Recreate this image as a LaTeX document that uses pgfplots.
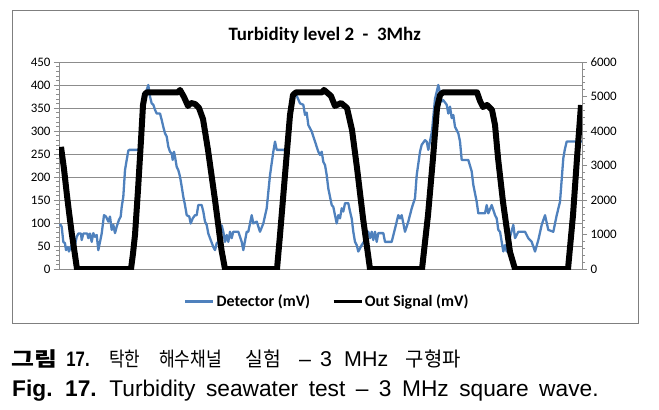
\documentclass[border=0pt]{standalone}
\usepackage{graphicx}
\usepackage{pgfplots}
\usepackage{pgfplotstable}
\pgfplotsset{compat=1.18}
\usepackage{fontspec}
\setmainfont{Carlito}
\newfontfamily\arial{Liberation Sans}
\newfontfamily\kr{Noto Sans CJK KR}
\definecolor{detblue}{HTML}{4F81BD}
\definecolor{gridgray}{HTML}{8C8C8C}
\definecolor{framegray}{HTML}{7F7F7F}

\pgfplotstableread{
x y
60 98
61.7 92
63.3 59
65 56
66 41
67.7 48
69 38
70.7 48
72.7 56
74 41
76.7 70
78.3 77
81 77
81.7 63
83.3 77
87.3 77
88.3 67
90 77
91.7 59
93.3 78
95 70
96.7 74
98.3 41
100 59
101.7 77
104 117
106 114
108.3 103
110 114
111.7 85
113.3 96
115 78
116.7 92
119 107
120.7 114
121.7 135
123.3 157
125 215
126.7 237
128.3 257
129.3 259
138.3 259
140 262
143 330
146 385
148.3 400
150 375
151.7 360
153.3 357
155 346
156.7 338
160 338
161.7 324
163.3 309
165 295
166.7 288
168.3 266
170 255
171.7 251
172.7 237
174 255
175 244
176.7 222
178.3 215
180 201
181.7 179
183.3 157
185 139
186.7 117
189.3 114
190.7 99
192.7 110
195 117
196.7 117
198.3 139
201.7 139
203.3 125
205 103
206.7 96
208.3 77
210 67
213.3 48
215 41
216.7 56
218.3 59
220 63
221.7 95
223.3 81
225 59
226.7 74
228.3 59
230 81
231.7 67
233.3 81
238.3 81
241.7 59
243.3 41
246.7 81
248.3 81
251.7 117
253.3 99
256.7 103
260 81
263.3 99
266.7 132
270 204
273.3 255
275 277
276.7 259
286 259
289 300
292 370
295 385
300 360
303.3 357
305 335
306.7 340
308.3 313
311.7 299
315 277
318.3 255
320 248
321.7 255
323.3 233
325 226
326.7 204
328.3 175
331.7 139
333.3 135
335 117
336.7 99
338.3 117
340 110
341.7 132
343.3 125
345 143
348.3 143
350 125
351.7 110
353.3 81
355 59
356.7 52
358.3 38
361.7 52
365 63
368.3 81
370 67
371.7 81
373.3 63
375 81
376.7 59
378.3 78
383.3 78
385 59
391.7 59
395 88
398.3 117
400 110
401.7 117
405 81
408.3 103
411.7 132
415 154
416.7 204
420 255
421.7 270
425 280
426.7 277
428.3 259
432 300
435 370
438.3 400
441.7 364
443.3 367
446.7 357
448.3 338
450 353
451.7 328
453.3 335
455 309
458.3 295
460 277
461.7 237
468.3 237
471.7 212
473.3 183
476.7 146
478.3 121
485 121
486.7 139
488.3 121
491.7 139
495 117
496.7 110
498.3 85
500 81
503.3 38
505 52
506.7 38
508.3 56
513.3 96
515 67
518.3 81
525 81
528.3 67
531.7 59
535 38
538.3 63
541.7 96
545 117
548.3 85
553.3 81
556.7 117
560 146
563.3 241
565 262
566.7 277
582 277
}\detector

\pgfplotstableread{
x y
61 3540
64 2900
66.7 2200
69 1650
71.7 1044
74.5 500
77 0
131 0
133 450
135 986
138 2290
141 3740
143 4754
145 5073
147 5120
178 5120
180 5190
184 4986
188 4725
191 4812
195 4783
199 4667
203 4348
208 3450
215 2000
221.5 551
225 0
277 0
280 986
285 2725
290 4464
293 5044
296 5120
322 5120
324 5190
331 5015
335 4725
341 4812
347 4667
352 4030
357 2928
363 1478
370 0
422 0
428 1565
433 3218
437 4667
440 5044
443 5120
477 5120
480 4870
483 4696
487 4754
492 4609
495 4174
498 3218
503 1942
510 493
515 0
568 0
573 1565
577 3218
581 4754
}\outsignal

\pgfplotsset{
  common/.style={
    at={(59bp,140bp)}, anchor=south west,
    scale only axis, width=523bp, height=207bp,
    xmin=59, xmax=582,
    axis x line=none,
    tick align=outside,
    major tick length=5bp, minor tick length=3bp,
    axis line style={gridgray, line width=0.8bp},
    every tick/.style={gridgray, line width=0.6bp},
    minor y tick num=4,
    scaled y ticks=false,
    /pgf/number format/assume math mode=true,
    /pgf/number format/1000 sep={},
    yticklabel style={font=\fontsize{13}{13}\selectfont, text=black},
  }
}

\begin{document}
\begin{tikzpicture}[x=1bp,y=1bp]
\path[use as bounding box] (0,0) rectangle (659,409);
\draw[framegray, line width=1bp] (12,86) rectangle (638,398);
\node[anchor=base, font=\fontsize{19}{19}\selectfont\bfseries] at (324.7,369) {Turbidity level 2\ \ -\ \ 3Mhz};

\begin{axis}[common,
  ymin=0, ymax=450,
  axis y line*=left,
  ytick={0,50,...,450},
  ymajorgrids,
  grid style={gridgray, line width=0.8bp},
]
\addplot[detblue, line width=2.3bp, line join=round] table[x=x,y=y] {\detector};
\end{axis}

\begin{axis}[common,
  ymin=0, ymax=6000,
  axis y line*=right,
  ytick={0,1000,...,6000},
  legend columns=2,
  legend style={at={(0.513,-0.158)}, anchor=center, draw=none, fill=none,
    font=\fontsize{16}{16}\selectfont\bfseries,
    /tikz/every even column/.append style={column sep=20bp}},
  legend image code/.code={\draw[#1, line width=2.6bp] (0bp,0bp) -- (28bp,0bp);},
]
\addlegendimage{detblue}
\addlegendentry{Detector (mV)}
\addplot[black, line width=6bp, line join=round] table[x=x,y=y] {\outsignal};
\addlegendentry{Out Signal (mV)}
\end{axis}

% caption line 1 (Korean)
\begin{scope}[every node/.style={anchor=base west, inner sep=0pt}]
\node[font=\kr\bfseries\fontsize{20}{20}\selectfont] at (11.7,42.3) {\scalebox{1.25}[1]{그림}};
\node[font=\arial\bfseries\fontsize{21}{21}\selectfont] at (66.2,42.3) {\scalebox{0.8}[1]{17.}};
\node[font=\kr\fontsize{20}{20}\selectfont] at (109,42.3) {\scalebox{0.85}[1]{탁한}};
\node[font=\kr\fontsize{20}{20}\selectfont] at (159,42.3) {\scalebox{0.86}[1]{해수채널}};
\node[font=\kr\fontsize{20}{20}\selectfont] at (245.7,42.3) {\scalebox{0.97}[1]{실험}};
\node[font=\arial\fontsize{21.5}{21.5}\selectfont] at (299,42.3) {–};
\node[font=\arial\fontsize{21.5}{21.5}\selectfont] at (320,42.3) {3};
\node[font=\arial\fontsize{21.5}{21.5}\selectfont] at (344,42.3) {MHz};
\node[font=\kr\fontsize{20}{20}\selectfont] at (405.7,42.3) {\scalebox{1.0}[1]{구형파}};
% caption line 2 (English)
\node[font=\arial\fontsize{22.8}{22.8}\selectfont] at (12,12.3)
  {\spaceskip=10.5bp\relax{\bfseries Fig. 17.} Turbidity seawater test – 3 MHz square wave.};
\end{scope}
\end{tikzpicture}
\end{document}
